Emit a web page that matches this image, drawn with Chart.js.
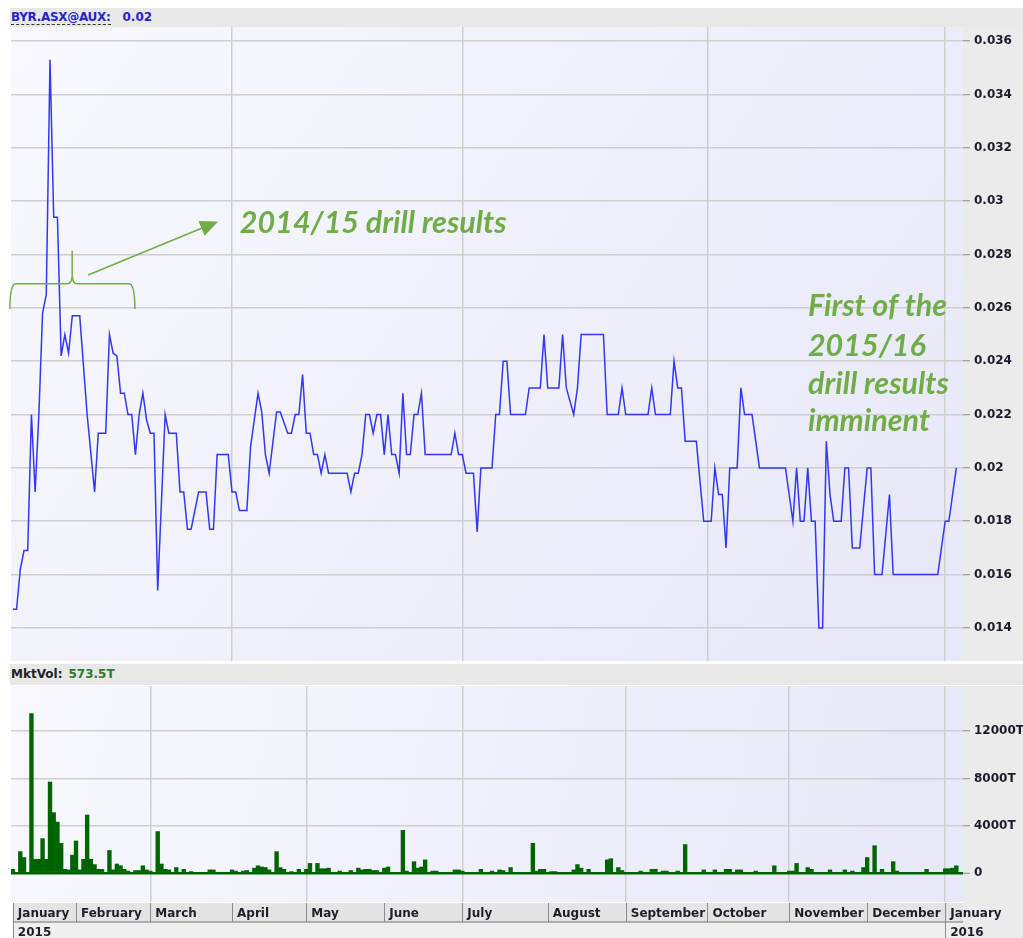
<!DOCTYPE html>
<html>
<head>
<meta charset="utf-8">
<script src="https://cdn.jsdelivr.net/npm/chart.js@4.4.0/dist/chart.umd.min.js"></script>
<style>
  body { margin:0; background:#fff; width:1023px; height:938px; overflow:hidden; position:relative; font-family:"DejaVu Sans", sans-serif; }
  .band { position:absolute; left:10px; right:0; background:#e8e8e8; font-weight:bold; font-size:12px; padding-left:1px; }
  #priceHead { top:8px; height:19px; line-height:18px; }
  #volHead { top:664px; height:21px; line-height:21px; }
  .box { position:absolute; left:0; width:1023px; }
  #priceBox { top:27px; height:634px; }
  #volBox { top:686px; height:252px; }
  .sym { color:#2424c8; border-bottom:1px dashed #333; letter-spacing:-0.3px; }
  .val { color:#2424c8; margin-left:12px; }
  .vlab { color:#222; }
  .vval { color:#2d7a2d; margin-left:6px; }
</style>
</head>
<body>
<div id="priceHead" class="band"><span class="sym">BYR.ASX@AUX:</span><span class="val">0.02</span></div>
<div id="priceBox" class="box"><canvas id="priceChart"></canvas></div>
<div id="volHead" class="band"><span class="vlab">MktVol:</span><span class="vval">573.5T</span></div>
<div id="volBox" class="box"><canvas id="volChart"></canvas></div>
<script>
/* global Chart */
// x values are trading-day numbers counted from the first bar (early January 2015)
const priceDays = [0, 1, 2, 3, 4, 5, 6, 7, 8, 9, 10, 11, 12, 13, 14, 15, 16, 18, 20, 22, 23, 25, 26, 27, 28, 29, 30, 31, 32, 33, 34, 35, 36, 37, 38, 39, 41, 42, 44, 45, 46, 47, 48, 50, 52, 53, 54, 55, 58, 59, 60, 61, 63, 64, 66, 67, 68, 69, 71, 72, 74, 75, 76, 77, 78, 79, 80, 81, 82, 83, 84, 85, 90, 91, 92, 93, 94, 95, 96, 97, 98, 99, 100, 101, 102, 103, 104, 105, 106, 107, 108, 109, 110, 111, 118, 119, 120, 121, 122, 124, 125, 126, 129, 130, 131, 132, 133, 134, 138, 139, 142, 143, 144, 147, 148, 149, 151, 152, 153, 159, 160, 163, 164, 165, 171, 172, 173, 177, 178, 179, 180, 181, 184, 186, 188, 189, 190, 191, 192, 193, 195, 196, 197, 199, 200, 201, 208, 210, 211, 212, 213, 214, 215, 216, 217, 218, 219, 220, 221, 223, 224, 225, 226, 228, 230, 231, 232, 234, 236, 237, 249, 251, 252, 254];
const priceValues = [0.0147, 0.0147, 0.0162, 0.0169, 0.0169, 0.0220, 0.0191, 0.0220, 0.0258, 0.0265, 0.0353, 0.0294, 0.0294, 0.0242, 0.0250, 0.0243, 0.0257, 0.0257, 0.0220, 0.0191, 0.0213, 0.0213, 0.0250, 0.0243, 0.0242, 0.0228, 0.0228, 0.0220, 0.0220, 0.0205, 0.0220, 0.0228, 0.0218, 0.0213, 0.0213, 0.0154, 0.0220, 0.0213, 0.0213, 0.0191, 0.0191, 0.0177, 0.0177, 0.0191, 0.0191, 0.0177, 0.0177, 0.0205, 0.0205, 0.0191, 0.0191, 0.0184, 0.0184, 0.0208, 0.0228, 0.0221, 0.0205, 0.0198, 0.0221, 0.0221, 0.0213, 0.0213, 0.0220, 0.0220, 0.0235, 0.0213, 0.0213, 0.0205, 0.0205, 0.0198, 0.0205, 0.0198, 0.0198, 0.0191, 0.0198, 0.0198, 0.0205, 0.0220, 0.0220, 0.0213, 0.0220, 0.0220, 0.0205, 0.0220, 0.0205, 0.0205, 0.0198, 0.0228, 0.0205, 0.0205, 0.0220, 0.0220, 0.0228, 0.0205, 0.0205, 0.0213, 0.0205, 0.0205, 0.0198, 0.0198, 0.0176, 0.0200, 0.0200, 0.0220, 0.0220, 0.0240, 0.0240, 0.0220, 0.0220, 0.0230, 0.0230, 0.0250, 0.0230, 0.0230, 0.0250, 0.0230, 0.0220, 0.0230, 0.0250, 0.0250, 0.0220, 0.0220, 0.0230, 0.0220, 0.0220, 0.0230, 0.0220, 0.0220, 0.0240, 0.0230, 0.0230, 0.0210, 0.0210, 0.0180, 0.0180, 0.0200, 0.0190, 0.0190, 0.0170, 0.0200, 0.0200, 0.0230, 0.0220, 0.0220, 0.0210, 0.0200, 0.0200, 0.0180, 0.0200, 0.0180, 0.0180, 0.0200, 0.0180, 0.0180, 0.0140, 0.0140, 0.0210, 0.0190, 0.0180, 0.0180, 0.0200, 0.0200, 0.0170, 0.0170, 0.0200, 0.0200, 0.0160, 0.0160, 0.0190, 0.0160, 0.0160, 0.0180, 0.0180, 0.0200];

const volumeDays = [0, 2, 3, 5, 6, 7, 8, 9, 10, 11, 12, 13, 14, 15, 16, 17, 18, 19, 20, 21, 22, 23, 24, 26, 27, 28, 29, 30, 31, 33, 34, 35, 36, 37, 39, 40, 41, 42, 44, 46, 48, 53, 54, 59, 60, 62, 63, 65, 66, 67, 68, 69, 71, 72, 73, 75, 77, 79, 80, 82, 83, 84, 85, 88, 91, 93, 94, 95, 96, 97, 98, 100, 101, 105, 106, 108, 109, 110, 111, 113, 114, 119, 120, 121, 126, 129, 131, 132, 134, 140, 141, 142, 143, 145, 146, 151, 152, 153, 155, 160, 161, 163, 164, 169, 172, 173, 175, 176, 179, 181, 186, 189, 192, 193, 195, 196, 200, 205, 209, 210, 211, 214, 215, 220, 224, 226, 229, 230, 232, 234, 237, 238, 246, 251, 252, 253, 254];
const volumeValues = [300, 1800, 1300, 13500, 1150, 1150, 2900, 1150, 7700, 5100, 4300, 2500, 300, 250, 1500, 2700, 250, 1150, 4900, 1150, 700, 300, 300, 1900, 250, 750, 600, 300, 150, 200, 200, 600, 250, 150, 3500, 750, 300, 250, 450, 300, 100, 250, 250, 250, 150, 150, 200, 400, 600, 500, 450, 250, 1800, 450, 300, 100, 300, 300, 800, 800, 350, 350, 400, 150, 200, 400, 250, 300, 300, 200, 200, 400, 500, 3600, 150, 950, 400, 500, 1100, 150, 150, 250, 250, 150, 300, 150, 250, 200, 450, 2500, 150, 300, 300, 100, 100, 250, 700, 400, 300, 1100, 1200, 450, 200, 150, 300, 300, 150, 150, 150, 2400, 250, 250, 300, 300, 250, 250, 150, 600, 150, 150, 800, 450, 300, 250, 250, 150, 450, 1300, 2300, 300, 950, 150, 300, 350, 350, 400, 600];

const monthStarts = [0, 17, 37, 59, 79, 100, 121, 144, 165, 187, 209, 230, 251];
const monthLabels = ['January', 'February', 'March', 'April', 'May', 'June', 'July', 'August', 'September', 'October', 'November', 'December', 'January'];
const yearStarts = [0, 251];
const yearLabels = ['2015', '2016'];
const priceGridDays = [59, 121, 187, 251];
const volumeGridDays = [37, 79, 121, 165, 209, 251];

const priceTicks = [0.014, 0.016, 0.018, 0.02, 0.022, 0.024, 0.026, 0.028, 0.03, 0.032, 0.034, 0.036];
const priceTickLabels = ['0.014', '0.016', '0.018', '0.02', '0.022', '0.024', '0.026', '0.028', '0.03', '0.032', '0.034', '0.036'];
const volumeTicks = [0, 4000, 8000, 12000];
const volumeTickLabels = ['0', '4000T', '8000T', '12000T'];

const noteColor = '#70ad47';
const gridColor = '#cfcfcf';
const axisFont = { family: 'DejaVu Sans', weight: 'bold', size: 12 };

const panelBackground = {
    id: 'panelBackground',
    beforeDraw(chart) {
        const { ctx, chartArea: a, width, height } = chart;
        ctx.save();
        ctx.fillStyle = '#ebebeb';
        ctx.fillRect(a.right, 0, width - a.right, height);
        const g = ctx.createLinearGradient(a.left, a.top, a.right, a.bottom);
        g.addColorStop(0, '#f8f8fe');
        g.addColorStop(1, '#e7e8f8');
        ctx.fillStyle = g;
        ctx.fillRect(a.left, a.top, a.width, a.height);
        ctx.restore();
    }
};

const drillNotes = {
    id: 'drillNotes',
    afterDatasetsDraw(chart) {
        const { ctx, scales: { x, y } } = chart;
        const px = v => x.getPixelForValue(v);
        const py = v => y.getPixelForValue(v);
        ctx.save();
        ctx.strokeStyle = noteColor;
        ctx.fillStyle = noteColor;
        ctx.lineWidth = 1.5;

        // brace under the January spike
        const bl = px(-0.8), br = px(32.85), bm = px(15.97);
        const yb = py(0.0269), ye = py(0.02596), yp = py(0.02814);
        ctx.beginPath();
        ctx.moveTo(bl, ye);
        ctx.quadraticCurveTo(bl, yb, bl + 6, yb);
        ctx.lineTo(bm - 5, yb);
        ctx.quadraticCurveTo(bm, yb, bm, yb - 9);
        ctx.lineTo(bm, yp);
        ctx.moveTo(bm, yb - 9);
        ctx.quadraticCurveTo(bm, yb, bm + 5, yb);
        ctx.lineTo(br - 6, yb);
        ctx.quadraticCurveTo(br, yb, br, ye);
        ctx.stroke();

        // arrow to the label
        const x0 = px(20.27), y0 = py(0.02723), x1 = px(55.28), y1 = py(0.02924);
        const ang = Math.atan2(y1 - y0, x1 - x0);
        const head = 18, half = 8;
        const bx = x1 - head * Math.cos(ang), by = y1 - head * Math.sin(ang);
        ctx.beginPath();
        ctx.moveTo(x0, y0);
        ctx.lineTo(bx, by);
        ctx.stroke();
        ctx.beginPath();
        ctx.moveTo(x1, y1);
        ctx.lineTo(bx + half * Math.sin(ang), by - half * Math.cos(ang));
        ctx.lineTo(bx - half * Math.sin(ang), by + half * Math.cos(ang));
        ctx.closePath();
        ctx.fill();

        ctx.font = 'italic bold 30.5px Lato, "Liberation Sans", sans-serif';
        ctx.textBaseline = 'alphabetic';
        ctx.fillText('2014/15 drill results', px(61.1), py(0.02881));
        const lines = ['First of the', '2015/16', 'drill results', 'imminent'];
        const bases = [0.0257, 0.0242, 0.02277, 0.02139];
        lines.forEach((t, i) => ctx.fillText(t, px(214.05), py(bases[i])));
        ctx.restore();
    }
};

const monthAxis = {
    id: 'monthAxis',
    afterDraw(chart) {
        const { ctx, chartArea: a, scales: { x } } = chart;
        const rowTop = a.bottom + 1, rowH = 19, yearH = 17;
        const left = x.getPixelForValue(monthStarts[0]);
        ctx.save();
        ctx.fillStyle = '#e4e4e4';
        ctx.fillRect(left, rowTop, a.right - left, rowH);
        ctx.fillStyle = '#efefef';
        ctx.fillRect(left, rowTop + rowH, a.right - left, yearH);
        ctx.strokeStyle = '#9a9a9a';
        ctx.lineWidth = 1.5;
        ctx.beginPath();
        ctx.moveTo(left, rowTop + rowH);
        ctx.lineTo(a.right, rowTop + rowH);
        ctx.stroke();
        ctx.lineWidth = 1;
        ctx.strokeStyle = '#8c8c8c';
        monthStarts.forEach(d => {
            const p = Math.round(x.getPixelForValue(d)) + 0.5;
            ctx.beginPath();
            ctx.moveTo(p, rowTop);
            ctx.lineTo(p, yearStarts.includes(d) ? rowTop + rowH + yearH : rowTop + rowH);
            ctx.stroke();
        });
        ctx.fillStyle = '#1e1e2a';
        ctx.font = 'bold 12px "DejaVu Sans"';
        ctx.textBaseline = 'alphabetic';
        monthLabels.forEach((t, i) => ctx.fillText(t, x.getPixelForValue(monthStarts[i]) + 5, rowTop + 14));
        yearLabels.forEach((t, i) => ctx.fillText(t, x.getPixelForValue(yearStarts[i]) + 5, rowTop + rowH + 14));
        ctx.restore();
    }
};

function dayAxis(gridDays, height) {
    return {
        type: 'linear',
        min: -0.5,
        max: 255.8,
        offset: false,
        afterBuildTicks: s => { s.ticks = gridDays.map(v => ({ value: v })); },
        ticks: { display: false },
        grid: { color: gridColor, lineWidth: 1.5, drawTicks: false, offset: false },
        border: { display: false },
        afterFit: s => { s.height = height; s.paddingLeft = 0; s.paddingRight = 0; }
    };
}

function valueAxis(min, max, ticks, labels, gridCb, widthCb) {
    return {
        position: 'right',
        min: min,
        max: max,
        afterBuildTicks: s => { s.ticks = ticks.map(v => ({ value: v })); },
        ticks: { callback: (v, i) => labels[i], font: axisFont, color: '#1a1a2a', padding: 4 },
        grid: { color: gridCb || gridColor, lineWidth: widthCb || 1.5, tickLength: 7, tickColor: '#8a8a8a', tickWidth: 1 },
        border: { display: false },
        afterFit: s => { s.width = 60; s.paddingTop = 0; s.paddingBottom = 0; }
    };
}

new Chart(document.getElementById('priceChart'), {
    type: 'line',
    data: {
        datasets: [{
            data: priceDays.map((d, i) => ({ x: d, y: priceValues[i] })),
            borderColor: '#3535f5',
            borderWidth: 1.5,
            pointRadius: 0,
            tension: 0
        }]
    },
    options: {
        responsive: true,
        maintainAspectRatio: false,
        animation: false,
        layout: { padding: { left: 11 } },
        plugins: { legend: { display: false }, tooltip: { enabled: false } },
        scales: {
            x: dayAxis(priceGridDays, 0),
            y: valueAxis(0.01276, 0.03653, priceTicks, priceTickLabels)
        }
    },
    plugins: [panelBackground, drillNotes]
});

new Chart(document.getElementById('volChart'), {
    type: 'bar',
    data: {
        datasets: [{
            data: volumeDays.map((d, i) => ({ x: d, y: volumeValues[i] })),
            backgroundColor: '#006400',
            borderWidth: 0,
            barPercentage: 1,
            categoryPercentage: 1
        }]
    },
    options: {
        responsive: true,
        maintainAspectRatio: false,
        animation: false,
        layout: { padding: { left: 11 } },
        plugins: { legend: { display: false }, tooltip: { enabled: false } },
        scales: {
            x: dayAxis(volumeGridDays, 36),
            y: valueAxis(-2468, 15830, volumeTicks, volumeTickLabels,
                c => (c.tick && c.tick.value === 0 ? '#006400' : gridColor),
                c => (c.tick && c.tick.value === 0 ? 2.5 : 1.5))
        }
    },
    plugins: [panelBackground, monthAxis]
});
</script>
</body>
</html>
